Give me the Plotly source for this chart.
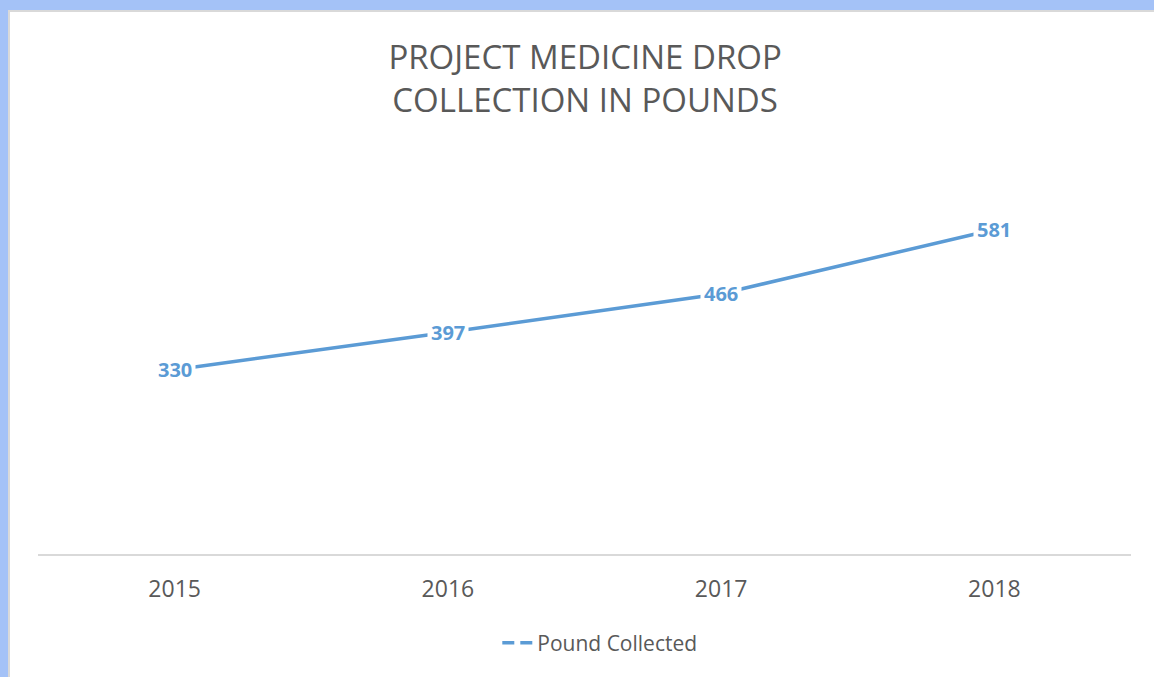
import plotly.graph_objects as go

years = ["2015", "2016", "2017", "2018"]
pounds = [330, 397, 466, 581]
series_name = "Pound Collected"
title_lines = ["PROJECT MEDICINE DROP", "COLLECTION IN POUNDS"]

W, H = 1154, 677
L, R, T, B = 38, 23, 163, 123
pw = W - L - R
ph = H - T - B

def px_x(px):
    return (px - L) / pw

def px_y(py):
    return (H - B - py) / ph

LINE = "#5B9BD5"
TXT = "#595959"
FONT = "Open Sans"

fig = go.Figure()
fig.add_trace(go.Scatter(x=years, y=pounds, mode="lines",
                         line=dict(color=LINE, width=3.5),
                         showlegend=False, hoverinfo="skip"))
fig.add_trace(go.Scatter(x=[None], y=[None], mode="lines", name=series_name,
                         line=dict(color=LINE, width=3.5, dash="12px,6px"),
                         showlegend=True))

for i, v in enumerate(pounds):
    fig.add_annotation(x=i, y=v, xref="x", yref="y", text=str(v), showarrow=False,
                       bgcolor="white", borderpad=3,
                       font=dict(family=FONT, size=20, color=LINE, weight="bold"))

blue = "#A4C2F7"
gray = "#D9D9D9"
shapes = [
    dict(type="rect", xref="paper", yref="paper", x0=px_x(0), x1=px_x(W), y0=px_y(10), y1=px_y(0),
         fillcolor=blue, line=dict(width=0), layer="above"),
    dict(type="rect", xref="paper", yref="paper", x0=px_x(0), x1=px_x(8), y0=px_y(H), y1=px_y(0),
         fillcolor=blue, line=dict(width=0), layer="above"),
    dict(type="rect", xref="paper", yref="paper", x0=px_x(8), x1=px_x(W), y0=px_y(12), y1=px_y(10),
         fillcolor=gray, line=dict(width=0), layer="above"),
    dict(type="rect", xref="paper", yref="paper", x0=px_x(8), x1=px_x(10), y0=px_y(H), y1=px_y(10),
         fillcolor=gray, line=dict(width=0), layer="above"),
]

fig.update_layout(
    width=W, height=H,
    margin=dict(l=L, r=R, t=T, b=B, autoexpand=False),
    paper_bgcolor="white", plot_bgcolor="white",
    title=dict(text="<br>".join(title_lines), x=0.507, xanchor="center",
               y=1 - 69 / H, yanchor="middle", yref="container",
               font=dict(family=FONT, size=33, color=TXT, weight=400)),
    xaxis=dict(type="category", range=[-0.5, 3.5], showline=True, linecolor=gray, linewidth=1.5,
               showgrid=False, zeroline=False, ticks="", ticklabelstandoff=14,
               tickfont=dict(family=FONT, size=23, color=TXT), fixedrange=True),
    yaxis=dict(range=[0, 700], visible=False, showgrid=False, zeroline=False, fixedrange=True),
    legend=dict(orientation="h", x=0.514, xanchor="center", y=px_y(643), yanchor="middle",
                font=dict(family=FONT, size=21, color=TXT), bgcolor="rgba(0,0,0,0)"),
    shapes=shapes,
)

fig.write_html("out.html", config={"displayModeBar": False},
               post_script="document.body.style.margin='0';document.body.style.padding='0';")
